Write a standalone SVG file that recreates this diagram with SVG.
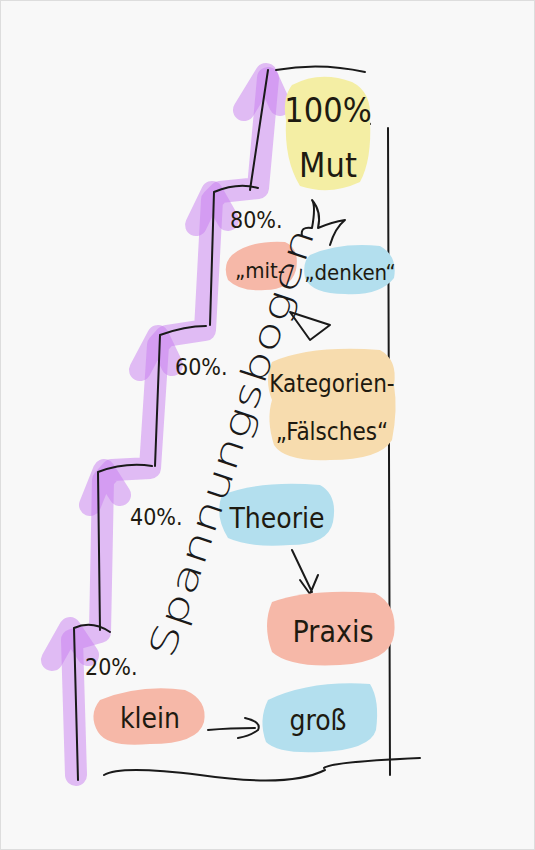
<svg xmlns="http://www.w3.org/2000/svg" width="535" height="850" viewBox="0 0 535 850">
<style>
.ink{fill:none;stroke:#1a1a1a;stroke-width:2;stroke-linecap:round;stroke-linejoin:round}
.hl{fill:none;stroke:#c77df0;stroke-opacity:0.5;stroke-width:22;stroke-linecap:round;stroke-linejoin:round}
.t{font-family:"DejaVu Sans Condensed","DejaVu Sans",sans-serif;fill:#1e1a10}
.thin{font-family:"DejaVu Sans","Liberation Sans",sans-serif;font-weight:200;fill:#1a1a1a}
.yel{fill:#f4eea4}.sal{fill:#f6b8a8}.blu{fill:#b3dfee}.ora{fill:#f7dcae}
</style>
<rect width="535" height="850" fill="#f8f8f8"/>
<rect x="0.5" y="0.5" width="534" height="849" fill="none" stroke="#dddddd"/>

<g id="purple-arrows">
<path class="hl" d="M76,775 L72,640 L100,632 L103,480 L112,470 L150,468 L158,345 L166,336 L205,330 L212,200 L220,192 L258,188 L268,78"/>
<path class="hl" d="M52,660 L70,628 L88,655"/>
<path class="hl" d="M90,505 L104,470 L120,495"/>
<path class="hl" d="M140,370 L158,336 L172,365"/>
<path class="hl" d="M196,225 L212,192 L228,220"/>
<path class="hl" d="M244,110 L266,74 L280,105"/>
</g>

<g id="staircase">
<path class="ink" d="M78,780 L74,628 Q92,620 110,632"/>
<path class="ink" d="M100,630 L98,472 Q125,462 152,466"/>
<path class="ink" d="M155,466 L160,335 Q185,326 206,326"/>
<path class="ink" d="M210,325 L214,192 Q238,182 258,188"/>
<path class="ink" d="M250,190 L268,70"/>
</g>

<g id="frame">
<path class="ink" d="M276,70 Q320,62 365,72"/>
<path class="ink" d="M388,128 L390,775"/>
<path class="ink" d="M104,775 Q120,765 200,775 Q290,788 325,770"/>
<path class="ink" d="M324,768 Q330,762 420,758"/>
<path class="ink" d="M368,122 L370,124"/>
</g>

<g id="connectors">
<path class="ink" d="M208,730 Q230,728 255,728 M245,718 Q262,722 258,730 Q250,736 238,738"/>
<path class="ink" d="M292,550 L312,592 M300,580 L310,594 L318,575"/>
<path class="ink" d="M302,236 Q300,226 312,228 Q316,206 312,200 Q322,212 318,228 Q332,222 345,220 Q335,228 330,245"/>
<path class="ink" d="M310,340 L290,312 L330,325 Z"/>
</g>

<g id="n100">
<path class="yel" d="M292,85 Q320,70 352,82 Q372,92 370,120 Q372,160 360,182 Q330,196 300,186 Q284,160 286,120 Q282,98 292,85 Z"/>
<text class="t" x="328" y="122" font-size="34" text-anchor="middle">100%</text>
<text class="t" x="328" y="177" font-size="34" text-anchor="middle">Mut</text>
</g>

<g id="p80"><text class="t" x="230" y="228" font-size="23">80%.</text></g>
<g id="mit">
<path class="sal" d="M232,255 Q250,240 285,242 Q300,248 296,270 Q290,290 265,290 Q240,292 228,280 Q222,265 232,255 Z"/>
<text class="t" x="260" y="278" font-size="22" text-anchor="middle">„mit-</text>
</g>
<g id="denken">
<path class="blu" d="M310,255 Q340,242 380,246 Q398,256 394,278 Q380,296 345,294 Q312,294 305,278 Q302,262 310,255 Z"/>
<text class="t" x="350" y="280" font-size="22" text-anchor="middle">„denken“</text>
</g>

<g id="p60"><text class="t" x="175" y="375" font-size="23">60%.</text></g>
<g id="kategorien">
<path class="ora" d="M272,362 Q310,345 380,350 Q398,360 394,385 Q398,410 392,440 Q380,460 330,460 Q285,462 274,445 Q266,420 272,400 Q264,380 272,362 Z"/>
<text class="t" x="332" y="392" font-size="24" text-anchor="middle">Kategorien-</text>
<text class="t" x="332" y="440" font-size="24" text-anchor="middle">„Fälsches“</text>
</g>

<g id="p40"><text class="t" x="130" y="525" font-size="23">40%.</text></g>
<g id="theorie">
<path class="blu" d="M222,495 Q260,480 320,485 Q338,495 333,522 Q328,545 290,545 Q250,548 228,538 Q214,515 222,495 Z"/>
<text class="t" x="277" y="528" font-size="28" text-anchor="middle">Theorie</text>
</g>

<g id="praxis">
<path class="sal" d="M272,602 Q310,588 375,593 Q398,605 394,635 Q390,662 340,665 Q290,668 272,652 Q262,625 272,602 Z"/>
<text class="t" x="333" y="642" font-size="30" text-anchor="middle">Praxis</text>
</g>

<g id="p20"><text class="t" x="85" y="675" font-size="23">20%.</text></g>
<g id="klein">
<path class="sal" d="M100,700 Q140,684 185,690 Q208,700 204,722 Q198,744 150,744 Q108,748 98,732 Q88,715 100,700 Z"/>
<text class="t" x="150" y="728" font-size="28" text-anchor="middle">klein</text>
</g>
<g id="gross">
<path class="blu" d="M268,700 Q310,680 370,684 Q380,700 376,730 Q370,750 320,752 Q278,754 266,742 Q258,720 268,700 Z"/>
<text class="t" x="318" y="730" font-size="28" text-anchor="middle">groß</text>
</g>

<g id="spannungsbogen">
<text class="thin" font-size="36" textLength="450" lengthAdjust="spacingAndGlyphs" transform="translate(172,660) rotate(-71.5)">Spannungsbogen</text>
</g>
</svg>
